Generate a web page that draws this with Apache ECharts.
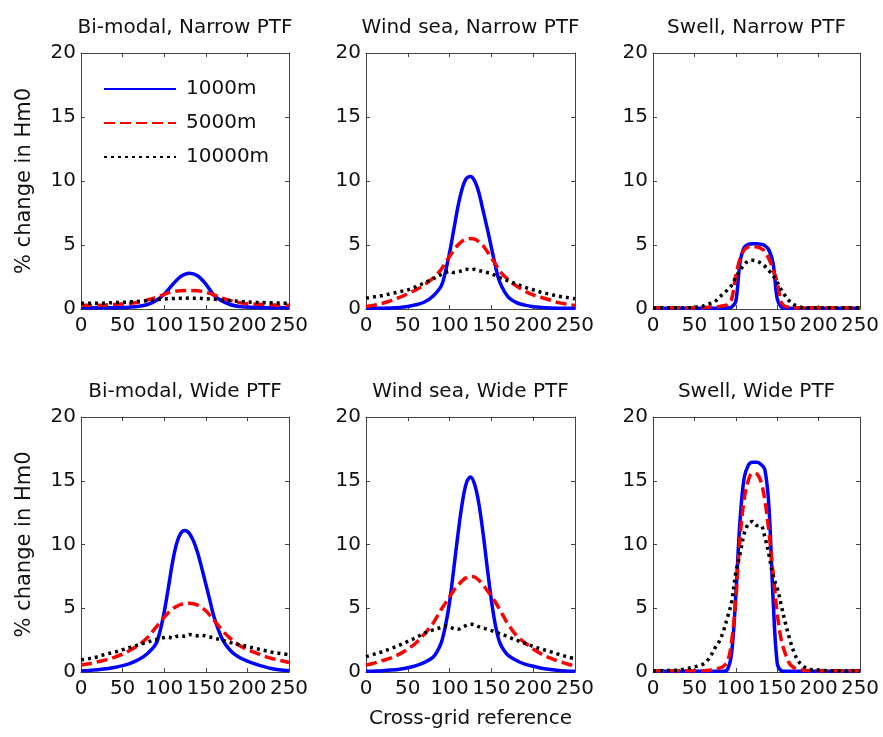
<!DOCTYPE html>
<html>
<head>
<meta charset="utf-8">
<script src="https://cdn.jsdelivr.net/npm/echarts@6/dist/echarts.min.js"></script>
<style>
  html, body { margin: 0; padding: 0; background: #ffffff; }
  #chart { width: 883px; height: 737px; }
</style>
</head>
<body>
<div id="chart"></div>
<script>
// ---------- data ----------
const panelTitles = ['Bi-modal, Narrow PTF', 'Wind sea, Narrow PTF', 'Swell, Narrow PTF',
                     'Bi-modal, Wide PTF', 'Wind sea, Wide PTF', 'Swell, Wide PTF'];
const seriesNames = ['1000m', '5000m', '10000m'];
const yTicks = [0, 5, 10, 15, 20];
const xTicks = [0, 50, 100, 150, 200, 250];
const yAxisTitle = '% change in Hm0';
const xAxisTitle = 'Cross-grid reference';

// Bi-modal, Narrow PTF
const xBN = [0,10,20,30,40,50,60,70,80,90,100,110,120,130,140,150,160,170,180,190,200,210,220,230,240,250];
const bn1000 = [0.1,0.1,0.1,0.1,0.1,0.12,0.15,0.22,0.35,0.65,1.15,1.9,2.55,2.8,2.6,1.95,1.05,0.6,0.33,0.2,0.15,0.12,0.1,0.1,0.1,0.1];
const bn5000 = [0.3,0.3,0.3,0.32,0.35,0.4,0.45,0.55,0.7,0.9,1.15,1.35,1.43,1.45,1.43,1.3,1.1,0.85,0.65,0.5,0.42,0.38,0.35,0.32,0.3,0.3];
const bn10000 = [0.45,0.45,0.45,0.47,0.5,0.52,0.56,0.6,0.66,0.72,0.78,0.82,0.84,0.85,0.84,0.8,0.76,0.7,0.65,0.6,0.55,0.52,0.5,0.48,0.46,0.45];

// Wind sea, Narrow PTF
const xWN = [0,10,20,30,40,50,60,70,80,90,95,100,105,110,115,120,125,130,135,140,145,150,155,160,170,180,190,200,210,220,230,240,250];
const wn1000 = [0.05,0.05,0.06,0.08,0.12,0.2,0.33,0.55,1.0,1.8,2.9,4.4,6.2,8.0,9.4,10.2,10.35,10.0,9.1,7.7,6.3,4.8,3.3,2.1,0.95,0.5,0.3,0.18,0.12,0.08,0.06,0.05,0.05];
const wn5000 = [0.2,0.3,0.45,0.65,0.9,1.2,1.5,1.9,2.4,3.1,3.6,4.1,4.6,5.0,5.3,5.45,5.5,5.45,5.25,4.95,4.5,4.0,3.5,2.95,2.3,1.8,1.4,1.1,0.9,0.7,0.5,0.38,0.28];
const wn10000 = [0.85,0.95,1.05,1.2,1.35,1.5,1.75,2.05,2.35,2.7,2.85,2.95,2.85,2.9,3.0,3.1,3.05,3.1,3.0,2.95,2.85,2.75,2.6,2.45,2.2,1.95,1.7,1.5,1.3,1.15,1.0,0.9,0.8];

// Swell, Narrow PTF
const xSN = [0,10,20,30,40,50,55,60,65,70,75,80,85,90,95,100,105,110,115,120,125,130,135,140,145,150,155,160,165,170,175,180,190,200,210,220,230,240,250];
const sn1000 = [0.05,0.05,0.05,0.05,0.05,0.05,0.05,0.05,0.05,0.05,0.05,0.05,0.06,0.08,0.15,0.6,3.6,4.8,5.05,5.1,5.1,5.05,4.95,4.6,3.6,0.8,0.15,0.06,0.05,0.05,0.05,0.05,0.05,0.05,0.05,0.05,0.05,0.05,0.05];
const sn5000 = [0.1,0.1,0.1,0.1,0.1,0.1,0.1,0.12,0.13,0.15,0.17,0.2,0.25,0.35,0.8,2.6,3.9,4.6,4.85,4.9,4.85,4.75,4.5,3.9,3.1,2.1,0.5,0.2,0.15,0.12,0.1,0.1,0.1,0.1,0.1,0.1,0.1,0.1,0.1];
const sn10000 = [0.1,0.1,0.1,0.1,0.1,0.12,0.18,0.22,0.35,0.45,0.6,0.9,1.2,1.5,1.85,2.5,3.0,3.45,3.75,3.8,3.75,3.6,3.35,3.0,2.6,2.1,1.5,1.0,0.6,0.35,0.2,0.12,0.1,0.1,0.1,0.1,0.1,0.1,0.1];

// Bi-modal, Wide PTF
const xBW = [0,10,20,30,40,50,60,70,80,90,95,100,105,110,115,120,125,130,135,140,145,150,155,160,170,180,190,200,210,220,230,240,250];
const bw1000 = [0.1,0.12,0.17,0.25,0.35,0.5,0.7,1.0,1.45,2.2,3.2,4.7,6.6,8.6,10.1,10.9,11.1,10.9,10.3,9.4,8.2,6.9,5.6,4.3,2.55,1.65,1.15,0.85,0.62,0.42,0.26,0.15,0.1];
const bw5000 = [0.55,0.65,0.8,0.95,1.15,1.4,1.75,2.15,2.7,3.5,3.9,4.3,4.65,4.95,5.15,5.3,5.35,5.4,5.35,5.25,5.05,4.8,4.45,4.05,3.25,2.6,2.1,1.75,1.5,1.25,1.05,0.9,0.75];
const bw10000 = [0.95,1.05,1.2,1.4,1.55,1.75,1.95,2.15,2.35,2.55,2.6,2.7,2.75,2.65,2.8,2.85,2.8,2.95,2.9,2.85,2.9,2.8,2.75,2.65,2.5,2.3,2.15,2.0,1.85,1.7,1.55,1.45,1.35];

// Wind sea, Wide PTF
const xWW = [0,10,20,30,40,50,60,70,80,85,90,95,100,105,110,115,120,125,130,135,140,145,150,155,160,165,170,180,190,200,210,220,230,240,250];
const ww1000 = [0.05,0.07,0.1,0.15,0.22,0.33,0.5,0.75,1.15,1.6,2.3,3.6,5.5,8.1,10.8,13.2,14.8,15.3,14.7,13.2,10.9,8.2,5.6,3.6,2.3,1.7,1.3,0.9,0.62,0.45,0.3,0.2,0.12,0.08,0.05];
const ww5000 = [0.55,0.7,0.9,1.1,1.4,1.8,2.3,3.0,3.8,4.35,4.9,5.4,5.9,6.4,6.8,7.15,7.4,7.5,7.45,7.2,6.85,6.4,5.95,5.45,4.9,4.3,3.75,2.85,2.3,1.8,1.4,1.1,0.85,0.65,0.45];
const ww10000 = [1.2,1.4,1.6,1.85,2.1,2.4,2.7,3.05,3.3,3.4,3.5,3.6,3.55,3.4,3.35,3.5,3.65,3.75,3.7,3.55,3.45,3.35,3.25,3.15,3.0,2.9,2.75,2.5,2.25,2.0,1.8,1.6,1.4,1.2,1.05];

// Swell, Wide PTF
const xSW = [0,10,20,30,40,50,55,60,65,70,75,80,85,90,95,100,105,110,115,120,125,130,135,140,145,150,155,160,165,170,175,180,185,190,200,210,220,230,240,250];
const sw1000 = [0.05,0.05,0.05,0.05,0.05,0.05,0.05,0.05,0.05,0.05,0.05,0.05,0.06,0.2,1.5,6.0,11.8,15.2,16.2,16.45,16.45,16.3,15.9,13.0,5.8,0.7,0.1,0.05,0.05,0.05,0.05,0.05,0.05,0.05,0.05,0.05,0.05,0.05,0.05,0.05];
const sw5000 = [0.1,0.1,0.1,0.1,0.1,0.1,0.1,0.1,0.12,0.15,0.2,0.3,0.45,0.8,2.4,5.7,10.5,13.5,15.0,15.6,15.55,15.0,13.5,11.0,7.8,4.6,2.5,1.4,0.65,0.35,0.22,0.15,0.12,0.1,0.1,0.1,0.1,0.1,0.1,0.1];
const sw10000 = [0.1,0.1,0.12,0.15,0.25,0.4,0.5,0.6,0.85,1.3,1.9,2.4,3.2,4.3,5.5,7.8,9.2,10.8,11.6,11.8,11.5,11.5,10.6,9.2,7.5,6.6,5.2,3.8,2.6,1.6,0.9,0.55,0.3,0.2,0.15,0.1,0.1,0.1,0.1,0.1];

// ---------- chart construction ----------
const panels = [
  { x: xBN, ys: [bn1000, bn5000, bn10000] },
  { x: xWN, ys: [wn1000, wn5000, wn10000] },
  { x: xSN, ys: [sn1000, sn5000, sn10000] },
  { x: xBW, ys: [bw1000, bw5000, bw10000] },
  { x: xWW, ys: [ww1000, ww5000, ww10000] },
  { x: xSW, ys: [sw1000, sw5000, sw10000] }
];

const FONT = 'DejaVu Sans';
const colLeft = [81, 366, 653];
const colWidth = [208, 209, 207];
const rowTop = [53, 417];
const rowHeight = [256, 255];
const titleTop = [18, 382];

const lineStyles = [
  { color: '#0000ff', width: 3.5, type: 'solid' },
  { color: '#ff0000', width: 3.5, type: [11, 5] },
  { color: '#000000', width: 3.5, type: [3, 4] }
];

const axisLineStyle = { color: '#444444', width: 1 };
const grids = [], xAxes = [], yAxes = [], series = [], titles = [];

panels.forEach((p, i) => {
  const r = Math.floor(i / 3), c = i % 3;
  grids.push({ left: colLeft[c], top: rowTop[r], width: colWidth[c], height: rowHeight[r], containLabel: false });
  titles.push({
    text: panelTitles[i], left: colLeft[c] + colWidth[c] / 2, top: titleTop[r], textAlign: 'center', padding: 0,
    textStyle: { fontFamily: FONT, fontSize: 20, fontWeight: 'normal', color: '#111' }
  });
  const common = {
    type: 'value', gridIndex: i, min: xTicks[0], max: xTicks[xTicks.length - 1], interval: 50,
    axisLine: { show: true, onZero: false, lineStyle: axisLineStyle },
    axisTick: { show: true, inside: true, length: 4, lineStyle: axisLineStyle },
    splitLine: { show: false }
  };
  xAxes.push(Object.assign({}, common, {
    position: 'bottom',
    axisLabel: { fontFamily: FONT, fontSize: 20, color: '#111', margin: 7, hideOverlap: false },
    name: (i === 4) ? xAxisTitle : '', nameLocation: 'middle', nameGap: 37,
    nameTextStyle: { fontFamily: FONT, fontSize: 20, color: '#111' }
  }));
  xAxes.push(Object.assign({}, common, { position: 'top', axisLabel: { show: false } }));
  const ycommon = {
    type: 'value', gridIndex: i, min: yTicks[0], max: yTicks[yTicks.length - 1], interval: 5,
    axisLine: { show: true, onZero: false, lineStyle: axisLineStyle },
    axisTick: { show: true, inside: true, length: 4, lineStyle: axisLineStyle },
    splitLine: { show: false }
  };
  yAxes.push(Object.assign({}, ycommon, {
    position: 'left',
    axisLabel: { fontFamily: FONT, fontSize: 20, color: '#111', margin: 5 },
    name: (c === 0) ? yAxisTitle : '', nameLocation: 'middle', nameGap: 46,
    nameTextStyle: { fontFamily: FONT, fontSize: 21, color: '#111' }
  }));
  yAxes.push(Object.assign({}, ycommon, { position: 'right', axisLabel: { show: false } }));

  p.ys.forEach((ys, k) => {
    series.push({
      name: seriesNames[k], type: 'line',
      xAxisIndex: 2 * i, yAxisIndex: 2 * i,
      data: p.x.map((xv, j) => [xv, ys[j]]),
      symbol: 'none', showSymbol: false, smooth: 0.35,
      lineStyle: lineStyles[k], itemStyle: { color: lineStyles[k].color },
      emphasis: { disabled: true }, animation: false, clip: true
    });
  });
});

const chart = echarts.init(document.getElementById('chart'), null, { renderer: 'canvas' });
chart.setOption({
  backgroundColor: '#ffffff',
  animation: false,
  textStyle: { fontFamily: FONT },
  title: titles,
  legend: {
    data: seriesNames, orient: 'vertical', left: 103, top: 79,
    itemWidth: 72, itemHeight: 14, itemGap: 14,
    itemStyle: { opacity: 0, borderWidth: 0 },
    textStyle: { fontFamily: FONT, fontSize: 20, color: '#111', padding: [0, 0, 0, 5] },
    selectedMode: false, padding: 0
  },
  grid: grids,
  xAxis: xAxes,
  yAxis: yAxes,
  series: series
});
</script>
</body>
</html>
